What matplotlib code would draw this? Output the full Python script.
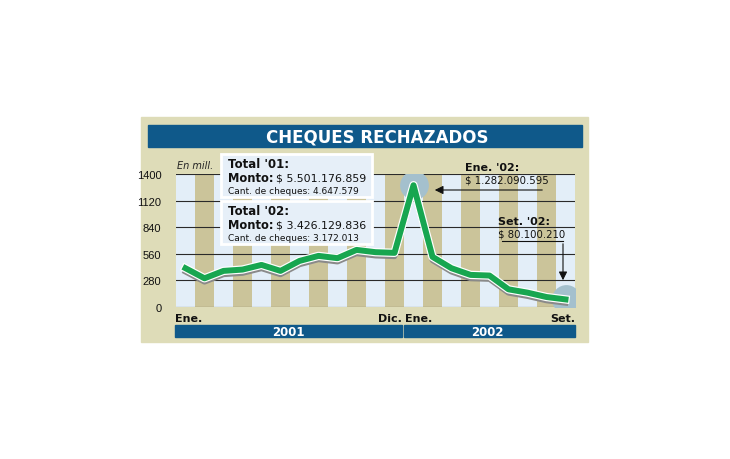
import matplotlib
matplotlib.use("Agg")
import matplotlib.pyplot as plt
import matplotlib.patheffects as pe
from matplotlib import transforms
from matplotlib.patches import Rectangle, FancyArrowPatch

# Monthly values (millions of pesos), Jan 2001 .. Sep 2002
months = ["Ene", "Feb", "Mar", "Abr", "May", "Jun", "Jul", "Ago", "Set", "Oct", "Nov", "Dic",
          "Ene", "Feb", "Mar", "Abr", "May", "Jun", "Jul", "Ago", "Set"]
values = [408, 302, 380, 394, 443, 380, 485, 538, 514, 601, 577, 570,
          1282, 528, 408, 338, 331, 186, 151, 105, 80]
yticks = [0, 280, 560, 840, 1120, 1400]
highlight = [12, 20]

W, H = 730, 460
fig = plt.figure(figsize=(W / 100, H / 100), dpi=100)
fig.patch.set_facecolor("white")
renderer = fig.canvas.get_renderer()

# background layer in pixel coordinates
bg = fig.add_axes([0, 0, 1, 1], zorder=0)
bg.set_xlim(0, W)
bg.set_ylim(H, 0)
bg.axis("off")
bg.add_patch(Rectangle((141, 118), 447, 225, color="#dedcb8"))
bg.add_patch(Rectangle((148, 126), 434, 22, color="#0f598a"))
bg.text(377, 137.5, "CHEQUES RECHAZADOS", color="white", fontsize=12, fontweight="bold",
        ha="center", va="center")
# year bars
bg.add_patch(Rectangle((175, 326), 227, 12, color="#0f598a"))
bg.add_patch(Rectangle((404, 326), 171, 12, color="#0f598a"))
bg.text(288, 332.5, "2001", color="white", fontsize=8.5, fontweight="bold", ha="center", va="center")
bg.text(487, 332.5, "2002", color="white", fontsize=8.5, fontweight="bold", ha="center", va="center")
for x, s, ha in [(175, "Ene.", "left"), (402, "Dic.", "right"), (405, "Ene.", "left"), (575, "Set.", "right")]:
    bg.text(x, 319, s, fontsize=8, fontweight="bold", ha=ha, va="center", color="#111")
bg.text(177, 166, "En mill.", fontsize=7, style="italic", ha="left", va="center", color="#222")

# data axes
ax = fig.add_axes([176 / W, (H - 308) / H, 399 / W, 133 / H], zorder=1)
ax.patch.set_alpha(0)
x = list(range(len(values)))
ax.set_xlim(-0.5, len(values) - 0.5)
ax.set_ylim(0, 1400)
for i in x:
    ax.axvspan(i - 0.5, i + 0.5, color="#e3eef8" if i % 2 == 0 else "#cbc49a", lw=0, zorder=0)
for t in yticks:
    ax.axhline(t, color="#2a2a2a", lw=0.8, zorder=1)
ax.set_yticks(yticks)
ax.set_yticklabels([str(t) for t in yticks], family=["Liberation Sans Narrow", "Liberation Sans"],
                   fontsize=8, color="#111")
ax.tick_params(axis="y", length=0, pad=10.5)
ax.set_xticks([])
for s in ax.spines.values():
    s.set_visible(False)

ax.scatter([x[i] for i in highlight], [values[i] for i in highlight], s=430,
           color="#a4c0cd", lw=0, zorder=2)
shadow = transforms.offset_copy(ax.transData, fig=fig, x=0, y=-3.5, units="dots")
ax.plot(x, values, color="#8a8a8a", lw=4, transform=shadow, zorder=3)
ax.plot(x, values, color="#17a650", lw=4.3, zorder=4,
        path_effects=[pe.Stroke(linewidth=6, foreground="white"), pe.Normal()])

# foreground annotations in pixel coordinates
fg = fig.add_axes([0, 0, 1, 1], zorder=2)
fg.set_xlim(0, W)
fg.set_ylim(H, 0)
fg.axis("off")
fg.patch.set_alpha(0)

boxes = [
    (155, "Total '01:", "$ 5.501.176.859", "Cant. de cheques: 4.647.579"),
    (202, "Total '02:", "$ 3.426.129.836", "Cant. de cheques: 3.172.013"),
]
for top, head, amount, count in boxes:
    fg.add_patch(Rectangle((221, top), 151, 43, facecolor="#e6eff8", edgecolor="white", lw=2))
    fg.text(228, top + 10, head, fontsize=8.5, fontweight="bold", va="center", color="#111")
    lab = fg.text(228, top + 24, "Monto:", fontsize=8.3, fontweight="bold", va="center", color="#111")
    wpx = lab.get_window_extent(renderer).width
    fg.text(228 + wpx + 3, top + 24, amount, fontsize=7.9, va="center", color="#111")
    fg.text(228, top + 37, count, fontsize=6.5, va="center", color="#111")

fg.text(465, 168, "Ene. '02:", fontsize=8, fontweight="bold", va="center", color="#111")
fg.text(465, 181, "$ 1.282.090.595", fontsize=7.3, va="center", color="#111")
fg.add_patch(FancyArrowPatch((545, 191), (432, 191), arrowstyle="-|>,head_length=5,head_width=2.5",
                             color="#111", lw=0.8, mutation_scale=1))
fg.text(498, 222, "Set. '02:", fontsize=8, fontweight="bold", va="center", color="#111")
fg.text(498, 235, "$ 80.100.210", fontsize=7.3, va="center", color="#111")
fg.plot([502, 563], [242, 242], color="#111", lw=0.8)
fg.add_patch(FancyArrowPatch((563, 242), (563, 284), arrowstyle="-|>,head_length=5,head_width=2.5",
                             color="#111", lw=0.8, mutation_scale=1))

fig.savefig("out.png", dpi=100, facecolor="white")
